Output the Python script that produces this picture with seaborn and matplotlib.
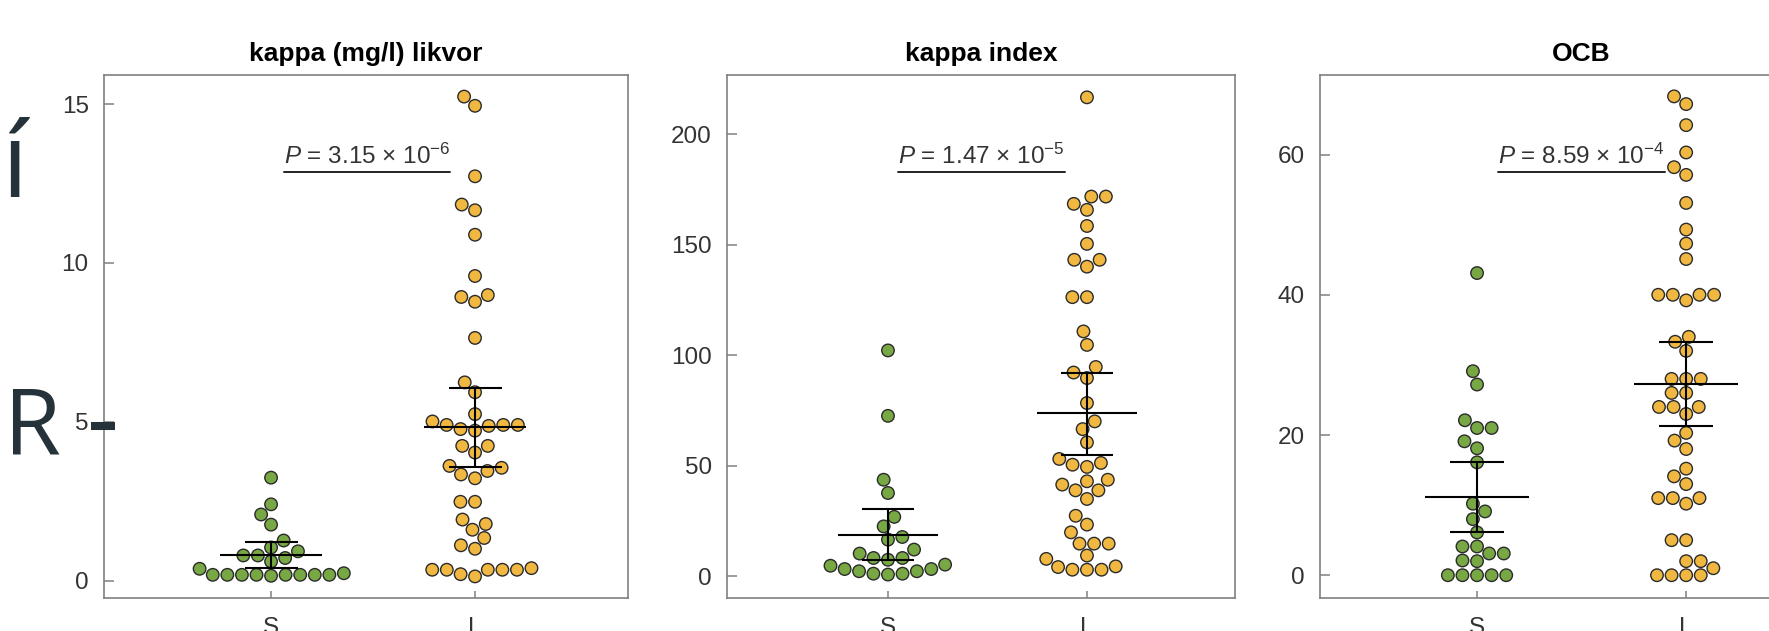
import numpy as np
import pandas as pd
import matplotlib
matplotlib.use('Agg')
import matplotlib.pyplot as plt
import seaborn as sns
from matplotlib.lines import Line2D

sns.set_theme(style='ticks')
plt.rcParams['font.family'] = ['Liberation Sans', 'DejaVu Sans']
plt.rcParams['mathtext.fontset'] = 'custom'
plt.rcParams['mathtext.rm'] = 'Liberation Sans'
plt.rcParams['mathtext.it'] = 'Liberation Sans:italic'
plt.rcParams['mathtext.bf'] = 'Liberation Sans:bold'

# Data
groups = ['S', 'L']
titles = ['kappa (mg/l) likvor', 'kappa index', 'OCB']
p_labels = [
    r'$\mathit{P}$ = 3.15 $\times$ 10$^{-6}$',
    r'$\mathit{P}$ = 1.47 $\times$ 10$^{-5}$',
    r'$\mathit{P}$ = 8.59 $\times$ 10$^{-4}$',
]

kappa_S = [3.24, 2.40, 2.08, 1.76, 1.26, 1.04, 0.92, 0.79, 0.79, 0.71, 0.60,
           0.18, 0.18, 0.18, 0.18, 0.18, 0.18, 0.18, 0.18, 0.23, 0.37, 0.15]
kappa_L = [15.24, 14.95, 12.73, 11.84, 11.66, 10.89, 9.59, 8.99, 8.78, 8.93,
           7.64, 6.24, 5.93, 5.24, 4.90, 4.90, 4.90, 4.72, 4.77, 4.87, 5.01,
           4.24, 4.24, 4.03, 3.55, 3.45, 3.22, 3.34, 3.61, 2.48, 2.48, 1.92,
           1.78, 1.60, 1.34, 1.00, 1.11, 0.34, 0.34, 0.34, 0.13, 0.20, 0.34,
           0.34, 0.39]

index_S = [102.2, 72.6, 43.7, 37.7, 26.9, 22.6, 17.8, 16.6, 12.1, 10.3,
           8.3, 8.3, 5.3, 3.3, 2.3, 1.2, 0.8, 1.2, 2.3, 3.3, 4.8, 7.5]
index_L = [216.7, 171.8, 171.8, 168.5, 165.8, 158.5, 150.4, 143.2, 143.2,
           140.1, 126.3, 126.3, 110.8, 104.7, 94.7, 92.2, 89.7, 78.4, 70.1,
           66.6, 60.6, 51.3, 49.5, 50.5, 53.1, 43.7, 41.5, 38.9, 35.0, 38.9,
           43.0, 27.4, 23.4, 19.9, 14.8, 14.8, 14.8, 9.4, 7.9, 4.5, 3.0, 3.0,
           3.0, 4.2]

ocb_S = [43.1, 29.1, 27.2, 22.1, 21.0, 21.0, 19.1, 18.1, 16.1, 10.2, 9.1,
         8.0, 6.1, 4.1, 4.1, 3.1, 3.1, 2.0, 2.1, 0, 0, 0, 0, 0]
ocb_L = [68.3, 67.2, 64.2, 60.3, 58.2, 57.1, 53.1, 49.3, 47.3, 45.1, 40.0,
         40.0, 40.0, 40.0, 39.2, 34.0, 33.3, 32.0, 28.0, 28.0, 28.0, 26.0,
         26.0, 24.0, 24.0, 24.0, 23.0, 20.3, 19.2, 18.0, 15.2, 14.1, 13.0,
         11.0, 11.0, 11.0, 10.2, 5.0, 5.0, 2.0, 1.0, 0, 0, 0, 0, 2.0]

# mean and 95% CI per panel, [S, L]
means = [[0.81, 4.84], [18.9, 73.9], [11.2, 27.3]]
ci_lo = [[0.41, 3.59], [7.5, 55.0], [6.2, 21.3]]
ci_hi = [[1.21, 6.07], [30.5, 91.9], [16.1, 33.2]]

yticks = [[0, 5, 10, 15], [0, 50, 100, 150, 200], [0, 20, 40, 60]]

panels = [(kappa_S, kappa_L), (index_S, index_L), (ocb_S, ocb_L)]

W, H = 1769, 631
fig = plt.figure(figsize=(W / 100, H / 100), dpi=100)
fig.patch.set_facecolor('white')

lefts = [104, 727, 1320]
widths = [524, 508, 523]
ax_bottom, ax_height = 33, 523
xlims = [(-0.819, 1.75), (-0.809, 1.744), (-0.751, 1.75)]
ylims = [(-0.55, 15.92), (-9.8, 226.8), (-3.25, 71.35)]
p_x = [0.47, 0.47, 0.5]

colors = {'S': '#77a843', 'L': '#f1b841'}
spine_col = '#808080'

axes = []
texts = []
for i in range(3):
    ax = fig.add_axes([lefts[i] / W, ax_bottom / H, widths[i] / W, ax_height / H])
    s_vals, l_vals = panels[i]
    df = pd.DataFrame({
        'group': ['S'] * len(s_vals) + ['L'] * len(l_vals),
        'value': list(s_vals) + list(l_vals),
    })
    ax.set_xlim(*xlims[i])
    ax.set_ylim(*ylims[i])
    sns.swarmplot(data=df, x='group', y='value', hue='group', order=groups,
                  palette=colors, size=9, linewidth=1.0, edgecolor='#2b2b2b',
                  legend=False, ax=ax, zorder=2)
    ax.set_xlim(*xlims[i])
    ax.set_ylim(*ylims[i])

    # mean line and CI whiskers
    for j in range(2):
        ax.hlines(means[i][j], j - 0.25, j + 0.25, color='black', lw=1.5, zorder=5)
        ax.vlines(j, ci_lo[i][j], ci_hi[i][j], color='black', lw=1.5, zorder=5)
        ax.hlines([ci_lo[i][j], ci_hi[i][j]], j - 0.13, j + 0.13,
                  color='black', lw=1.5, zorder=5)

    ax.set_yticks(yticks[i])
    ax.set_xlabel('')
    ax.set_ylabel('')
    ax.set_title(titles[i], fontsize=19, fontweight='bold', pad=10, color='black')
    for sp in ax.spines.values():
        sp.set_visible(True)
        sp.set_color(spine_col)
        sp.set_linewidth(1.2)
    ax.tick_params(axis='y', direction='in', length=7, width=1.1,
                   color=spine_col, labelsize=17.5, labelcolor='#333333', pad=11)
    ax.tick_params(axis='x', direction='in', length=5, width=1.1,
                   color=spine_col, labelsize=17.5, labelcolor='#333333', pad=14)
    t = ax.text(p_x[i], 0.83, p_labels[i], transform=ax.get_xaxis_transform(),
                ha='center', va='baseline', fontsize=17.5, color='#333333')
    axes.append(ax)
    texts.append(t)

# underline the P values
fig.canvas.draw()
inv = fig.transFigure.inverted()
for t in texts:
    bb = t.get_window_extent()
    (x0, y0), (x1, _) = inv.transform([(bb.x0, bb.y0 - 3), (bb.x1, bb.y0 - 3)])
    fig.add_artist(Line2D([x0, x1], [y0, y0], color='#222222', lw=1.4))

# slide text peeking in at the left edge
slide_col = '#25323a'
fig.text(2 / W, 1 - 197 / H, 'í', fontsize=75, family='Open Sans',
         color=slide_col, ha='left', va='baseline')
fig.text(4 / W, 1 - 453 / H, 'R', fontsize=66.5, family='Open Sans',
         color=slide_col, ha='left', va='baseline')
fig.add_artist(Line2D([91 / W, 115 / W], [1 - 426 / H, 1 - 426 / H],
                      color=slide_col, lw=5.8, solid_capstyle='butt'))

fig.savefig('out.png', dpi=100, facecolor='white')
